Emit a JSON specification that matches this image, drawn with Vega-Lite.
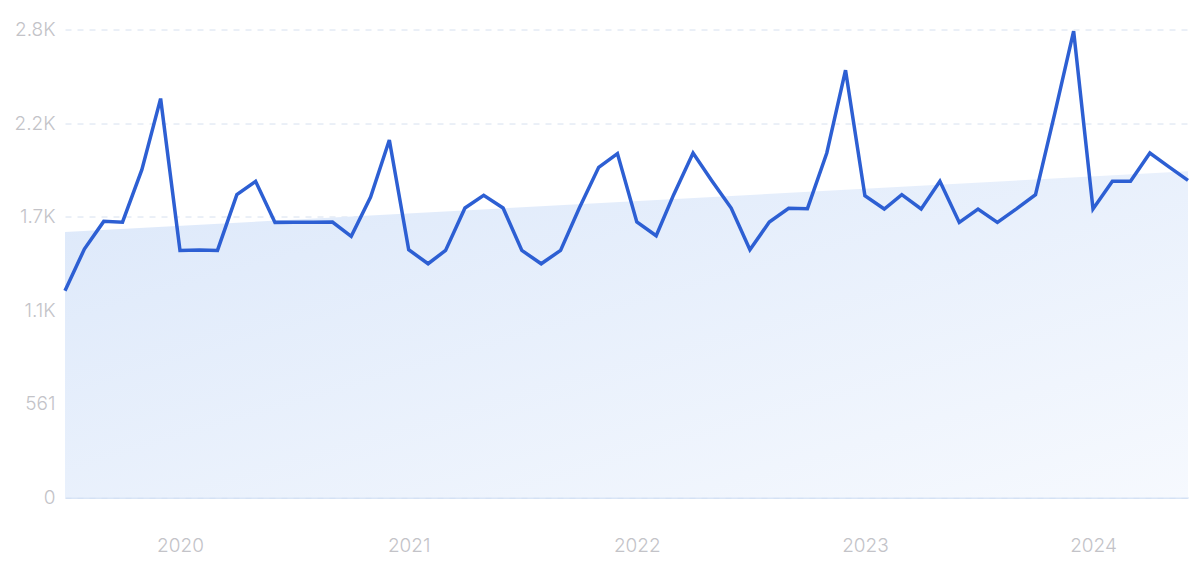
{
  "$schema": "https://vega.github.io/schema/vega-lite/v6.json",
  "autosize": "none",
  "width": 1123,
  "height": 468,
  "padding": {"left": 65, "top": 29.5, "right": 12, "bottom": 63.5},
  "background": "#ffffff",
  "config": {
    "view": {"stroke": null},
    "font": "Inter"
  },
  "datasets": {
    "trend": [
      {"date": "2019-07-01", "value": 1591},
      {"date": "2024-06-01", "value": 1955}
    ],
    "series": [
      {"date": "2019-07-01", "value": 1239},
      {"date": "2019-08-01", "value": 1489},
      {"date": "2019-09-01", "value": 1655},
      {"date": "2019-10-01", "value": 1650},
      {"date": "2019-11-01", "value": 1965},
      {"date": "2019-12-01", "value": 2391},
      {"date": "2020-01-01", "value": 1481},
      {"date": "2020-02-01", "value": 1483},
      {"date": "2020-03-01", "value": 1481},
      {"date": "2020-04-01", "value": 1815},
      {"date": "2020-05-01", "value": 1895},
      {"date": "2020-06-01", "value": 1649},
      {"date": "2020-07-01", "value": 1650},
      {"date": "2020-08-01", "value": 1650},
      {"date": "2020-09-01", "value": 1651},
      {"date": "2020-10-01", "value": 1565},
      {"date": "2020-11-01", "value": 1801},
      {"date": "2020-12-01", "value": 2143},
      {"date": "2021-01-01", "value": 1485},
      {"date": "2021-02-01", "value": 1401},
      {"date": "2021-03-01", "value": 1481},
      {"date": "2021-04-01", "value": 1735},
      {"date": "2021-05-01", "value": 1811},
      {"date": "2021-06-01", "value": 1735},
      {"date": "2021-07-01", "value": 1481},
      {"date": "2021-08-01", "value": 1401},
      {"date": "2021-09-01", "value": 1481},
      {"date": "2021-10-01", "value": 1735},
      {"date": "2021-11-01", "value": 1979},
      {"date": "2021-12-01", "value": 2061},
      {"date": "2022-01-01", "value": 1651},
      {"date": "2022-02-01", "value": 1569},
      {"date": "2022-03-01", "value": 1815},
      {"date": "2022-04-01", "value": 2065},
      {"date": "2022-05-01", "value": 1899},
      {"date": "2022-06-01", "value": 1735},
      {"date": "2022-07-01", "value": 1485},
      {"date": "2022-08-01", "value": 1651},
      {"date": "2022-09-01", "value": 1733},
      {"date": "2022-10-01", "value": 1731},
      {"date": "2022-11-01", "value": 2065},
      {"date": "2022-12-01", "value": 2561},
      {"date": "2023-01-01", "value": 1809},
      {"date": "2023-02-01", "value": 1729},
      {"date": "2023-03-01", "value": 1815},
      {"date": "2023-04-01", "value": 1729},
      {"date": "2023-05-01", "value": 1895},
      {"date": "2023-06-01", "value": 1649},
      {"date": "2023-07-01", "value": 1729},
      {"date": "2023-08-01", "value": 1649},
      {"date": "2023-09-01", "value": 1731},
      {"date": "2023-10-01", "value": 1815},
      {"date": "2023-11-01", "value": 2305},
      {"date": "2023-12-01", "value": 2795},
      {"date": "2024-01-01", "value": 1729},
      {"date": "2024-02-01", "value": 1895},
      {"date": "2024-03-01", "value": 1895},
      {"date": "2024-04-01", "value": 2065},
      {"date": "2024-05-01", "value": 1983},
      {"date": "2024-06-01", "value": 1901}
    ]
  },
  "encoding": {
    "x": {
      "field": "date",
      "type": "temporal",
      "scale": {"domain": ["2019-07-01", "2024-06-01"], "nice": false},
      "axis": {
        "title": null,
        "format": "%Y",
        "values": ["2020-01-01", "2021-01-01", "2022-01-01", "2023-01-01", "2024-01-01"],
        "grid": false,
        "ticks": false,
        "domain": true,
        "domainColor": "#cddcf3",
        "domainWidth": 1.5,
        "labelColor": "#c3c3c8",
        "labelFontSize": 19,
        "labelFontWeight": 300,
        "labelPadding": 39,
        "labelFont": "Inter"
      }
    },
    "y": {
      "field": "value",
      "type": "quantitative",
      "scale": {"domain": [0, 2805], "nice": false, "zero": true},
      "axis": {
        "title": null,
        "values": [0, 561, 1122, 1683, 2244, 2805],
        "labelExpr": "datum.value == 0 ? '0' : datum.value == 561 ? '561' : datum.value == 1122 ? '1.1K' : datum.value == 1683 ? '1.7K' : datum.value == 2244 ? '2.2K' : '2.8K'",
        "domain": false,
        "ticks": false,
        "grid": true,
        "gridColor": "#d6e0ef",
        "gridDash": [6, 6],
        "gridWidth": 1,
        "labelColor": "#c3c3c8",
        "labelFontSize": 19,
        "labelFontWeight": 300,
        "labelPadding": 10,
        "labelFont": "Inter"
      }
    }
  },
  "layer": [
    {
      "data": {"name": "trend"},
      "mark": {
        "type": "area",
        "fill": {
          "gradient": "linear",
          "x1": 0, "y1": 0, "x2": 1, "y2": 1,
          "stops": [
            {"offset": 0, "color": "#dce8fa"},
            {"offset": 1, "color": "#f6f9fe"}
          ]
        },
        "stroke": null
      }
    },
    {
      "data": {"name": "series"},
      "mark": {
        "type": "line",
        "color": "#2d5fd3",
        "strokeWidth": 3.5,
        "strokeJoin": "miter"
      }
    }
  ]
}
